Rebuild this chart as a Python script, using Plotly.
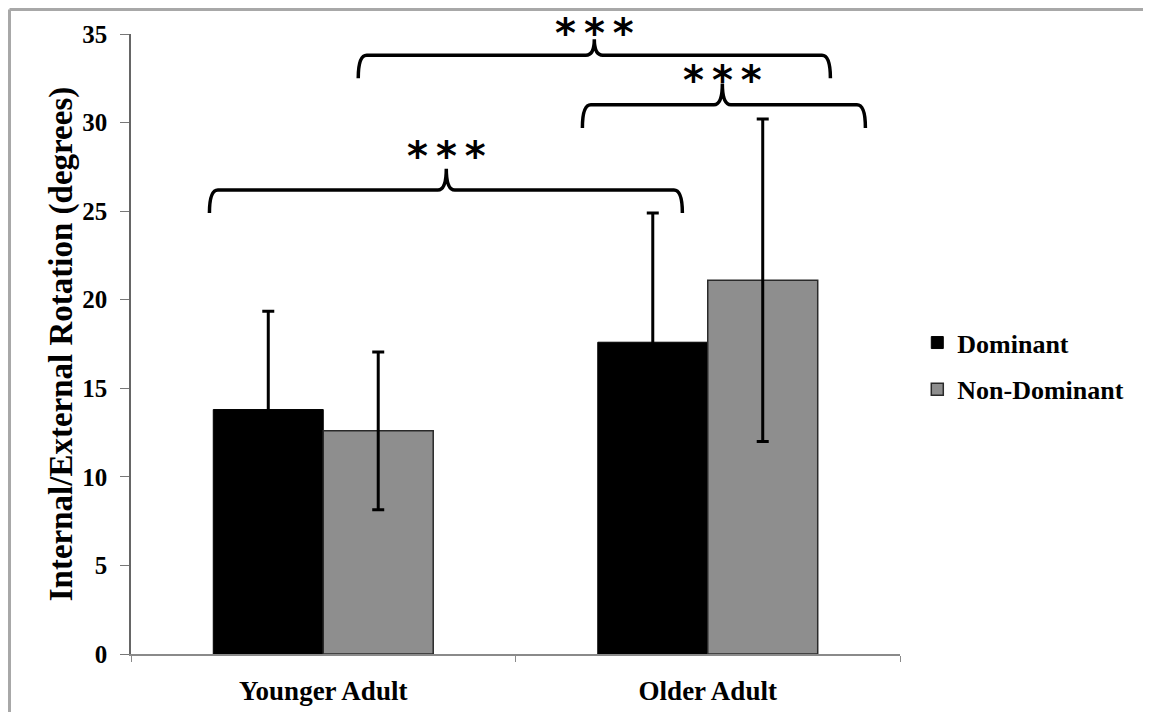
import plotly.graph_objects as go

# ---- data ----
groups = ["Younger Adult", "Older Adult"]
dominant = [13.8, 17.6]
dominant_sd = [5.55, 7.3]
non_dominant = [12.6, 21.1]
non_dominant_sd = [4.45, 9.1]
y_ticks = [0, 5, 10, 15, 20, 25, 30, 35]
Y_MAX = 35

# significance brackets: (left, right, middle, level, end level, tip level, star level)
brackets = [
    (-0.296, 0.934, 0.320, 26.2, 24.9, 27.4, 28.1),
    (0.091, 1.319, 0.705, 33.8, 32.5, 34.7, 35.05),
    (0.674, 1.410, 1.038, 31.0, 29.7, 32.2, 32.4),
]

SERIF = "Liberation Serif"
xpos = list(range(len(groups)))

fig = go.Figure()
fig.add_trace(go.Bar(
    name="Dominant", x=xpos, y=dominant,
    marker=dict(color="#000000", line=dict(color="#000000", width=1)),
    error_y=dict(type="data", array=dominant_sd, color="#000000", thickness=3, width=6),
    legendgroup="a",
))
fig.add_trace(go.Bar(
    name="Non-Dominant", x=xpos, y=non_dominant,
    marker=dict(color="#8e8e8e", line=dict(color="#2a2a2a", width=1.5)),
    error_y=dict(type="data", array=non_dominant_sd, color="#000000", thickness=3, width=6),
    legendgroup="b",
))

shapes = []
r = 0.022
for (x0, x1, xm, y, ye, yt, ys) in brackets:
    path = (f"M {x0},{ye} Q {x0},{y} {x0 + r},{y} L {xm - r},{y} "
            f"Q {xm},{y} {xm},{yt} Q {xm},{y} {xm + r},{y} L {x1 - r},{y} "
            f"Q {x1},{y} {x1},{ye}")
    shapes.append(dict(type="path", path=path, xref="x", yref="y",
                       line=dict(color="#000000", width=3.5)))

# outer frame (left and top edges, faint right edge)
shapes.append(dict(type="line", xref="paper", yref="paper", x0=-0.158, x1=-0.158,
                   y0=-0.106, y1=1.0395, line=dict(color="#a8a8a8", width=3)))
shapes.append(dict(type="line", xref="paper", yref="paper", x0=-0.158, x1=1.3225,
                   y0=1.0395, y1=1.0395, line=dict(color="#a8a8a8", width=3)))
shapes.append(dict(type="line", xref="paper", yref="paper", x0=1.3225, x1=1.3225,
                   y0=-0.106, y1=1.0395, line=dict(color="#eeeeee", width=1.5)))

STARS = "<b>*\u2009*\u2009*</b>"
annotations = []
for (x0, x1, xm, y, ye, yt, ys) in brackets:
    annotations.append(dict(x=xm, y=ys / Y_MAX, xref="x", yref="paper", text=STARS,
                            showarrow=False, yanchor="middle",
                            font=dict(family="DejaVu Sans", size=40, color="#000000")))

fig.update_layout(
    width=1151, height=712,
    margin=dict(l=123, r=259, t=26, b=66),
    paper_bgcolor="white", plot_bgcolor="white",
    barmode="group", bargap=0.428, bargroupgap=0,
    showlegend=True,
    legend=dict(xref="container", yref="container", x=0.790, y=0.497,
                xanchor="left", yanchor="middle", tracegroupgap=10,
                font=dict(family=SERIF, size=26, color="#000000"),
                bgcolor="rgba(0,0,0,0)"),
    shapes=shapes, annotations=annotations,
    font=dict(family=SERIF, color="#000000"),
)
fig.update_xaxes(
    range=[-0.5, 1.5], tickvals=xpos, ticktext=["<b>" + g + "</b>" for g in groups],
    ticks="", showline=True, linecolor="#8a8a8a", linewidth=2, ticklabelstandoff=12,
    tickfont=dict(family=SERIF, size=27, color="#000000"), showgrid=False, zeroline=False,
    minor=dict(tickvals=[-0.5, 0.5, 1.5], ticks="outside", ticklen=6, tickcolor="#8a8a8a", tickwidth=1),
)
fig.update_yaxes(
    range=[0, Y_MAX], tickvals=y_ticks, ticktext=[f"<b>{v}</b>" for v in y_ticks],
    ticks="outside", ticklen=9, tickcolor="#777777", tickwidth=1, ticklabelstandoff=8,
    showline=True, linecolor="#666666", linewidth=1.5, showgrid=False, zeroline=False,
    tickfont=dict(family=SERIF, size=25, color="#000000"),
    title=dict(text="<b>Internal/External Rotation (degrees)</b>",
               font=dict(family=SERIF, size=33, color="#000000"), standoff=0),
)
fig.for_each_trace(lambda t: t.update(name="<b>" + t.name + "</b>"))

fig.write_html("out.html")
